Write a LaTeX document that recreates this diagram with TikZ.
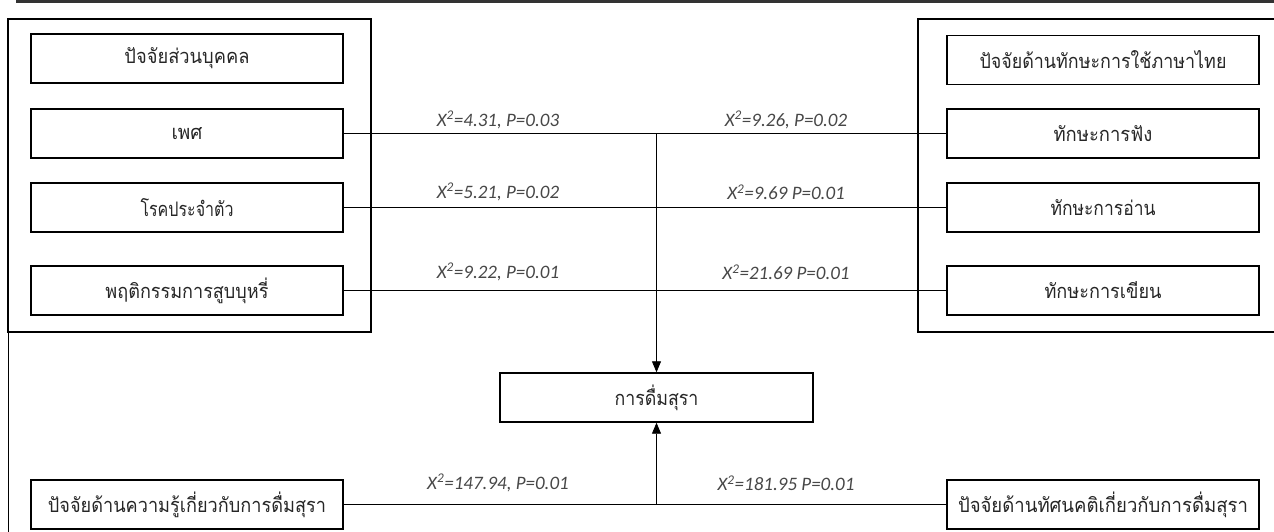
\documentclass[tikz,border=0pt]{standalone}
\usepackage{fontspec}
\usepackage{graphicx}
\usetikzlibrary{arrows.meta}
\newfontfamily\thaifont[Script=Thai]{Loma}
\newfontfamily\labfont{Carlito}
\newcommand{\tw}[2]{\resizebox{#1pt}{\height}{#2}}
\begin{document}
\begin{tikzpicture}[x=1pt,y=-1pt,
  box/.style={draw=black, line width=1.4pt, minimum width=312pt, minimum height=49pt, inner sep=0pt, font=\thaifont\fontsize{20}{22}\selectfont, text=black!85},
  group/.style={draw=black, line width=1.8pt},
  conn/.style={draw=black, line width=0.8pt},
  arr/.style={-{Triangle[width=9pt,length=11pt]}},
  lab/.style={font=\labfont\itshape\fontsize{19}{21}\selectfont, text=black!72, inner sep=0pt}]
\useasboundingbox (0,0) rectangle (1274,532);
% top rule and left border
\draw[line width=2.2pt, black!80] (16,1.5) -- (1274,1.5);
\draw[line width=0.8pt] (8,19) -- (8,532);
% group frames
\draw[group] (8,19) rectangle (371,332);
\draw[group] (1276,19) -- (918,19) -- (918,332) -- (1276,332);
% left boxes
\node[box] (L0) at (187,58.5) {\tw{125}{ปัจจัยส่วนบุคคล}};
\node[box] (L1) at (187,133.5) {\tw{31}{เพศ}};
\node[box] (L2) at (187,207.5) {\tw{93}{โรคประจำตัว}};
\node[box] (L3) at (187,290.5) {\tw{163}{พฤติกรรมการสูบบุหรี่}};
% right boxes
\node[box] (R0) at (1103,60) {\tw{247}{ปัจจัยด้านทักษะการใช้ภาษาไทย}};
\node[box] (R1) at (1103,133.5) {\tw{99}{ทักษะการฟัง}};
\node[box] (R2) at (1103,207.5) {\tw{105}{ทักษะการอ่าน}};
\node[box] (R3) at (1103,290.5) {\tw{117}{ทักษะการเขียน}};
% centre
\node[box, minimum width=313pt] (C) at (656.5,397.5) {\tw{84}{การดื่มสุรา}};
% bottom boxes
\node[box] (B1) at (187,504.5) {\tw{278}{ปัจจัยด้านความรู้เกี่ยวกับการดื่มสุรา}};
\node[box] (B2) at (1103,504.5) {\tw{290}{ปัจจัยด้านทัศนคติเกี่ยวกับการดื่มสุรา}};
% connectors
\draw[conn] (L1) -- (R1);
\draw[conn] (L2) -- (R2);
\draw[conn] (L3) -- (R3);
\draw[conn] (B1) -- (B2);
\coordinate (j) at (656.5,133.5);
\coordinate (k) at (656.5,504.5);
\draw[conn, arr] (j) -- (C);
\draw[conn, arr] (k) -- (C);
% labels
\node[lab] (a1) at (498,120) {X\textsuperscript{2}=4.31, P=0.03};
\node[lab] (b1) at (786,120) {X\textsuperscript{2}=9.26, P=0.02};
\node[lab] (a2) at (498,192) {X\textsuperscript{2}=5.21, P=0.02};
\node[lab] (b2) at (786,192) {X\textsuperscript{2}=9.69 P=0.01};
\node[lab] (a3) at (498,272) {X\textsuperscript{2}=9.22, P=0.01};
\node[lab] (b3) at (786,272) {X\textsuperscript{2}=21.69 P=0.01};
\node[lab] (a4) at (498,483) {X\textsuperscript{2}=147.94, P=0.01};
\node[lab] (b4) at (786,483) {X\textsuperscript{2}=181.95 P=0.01};
\end{tikzpicture}
\end{document}
